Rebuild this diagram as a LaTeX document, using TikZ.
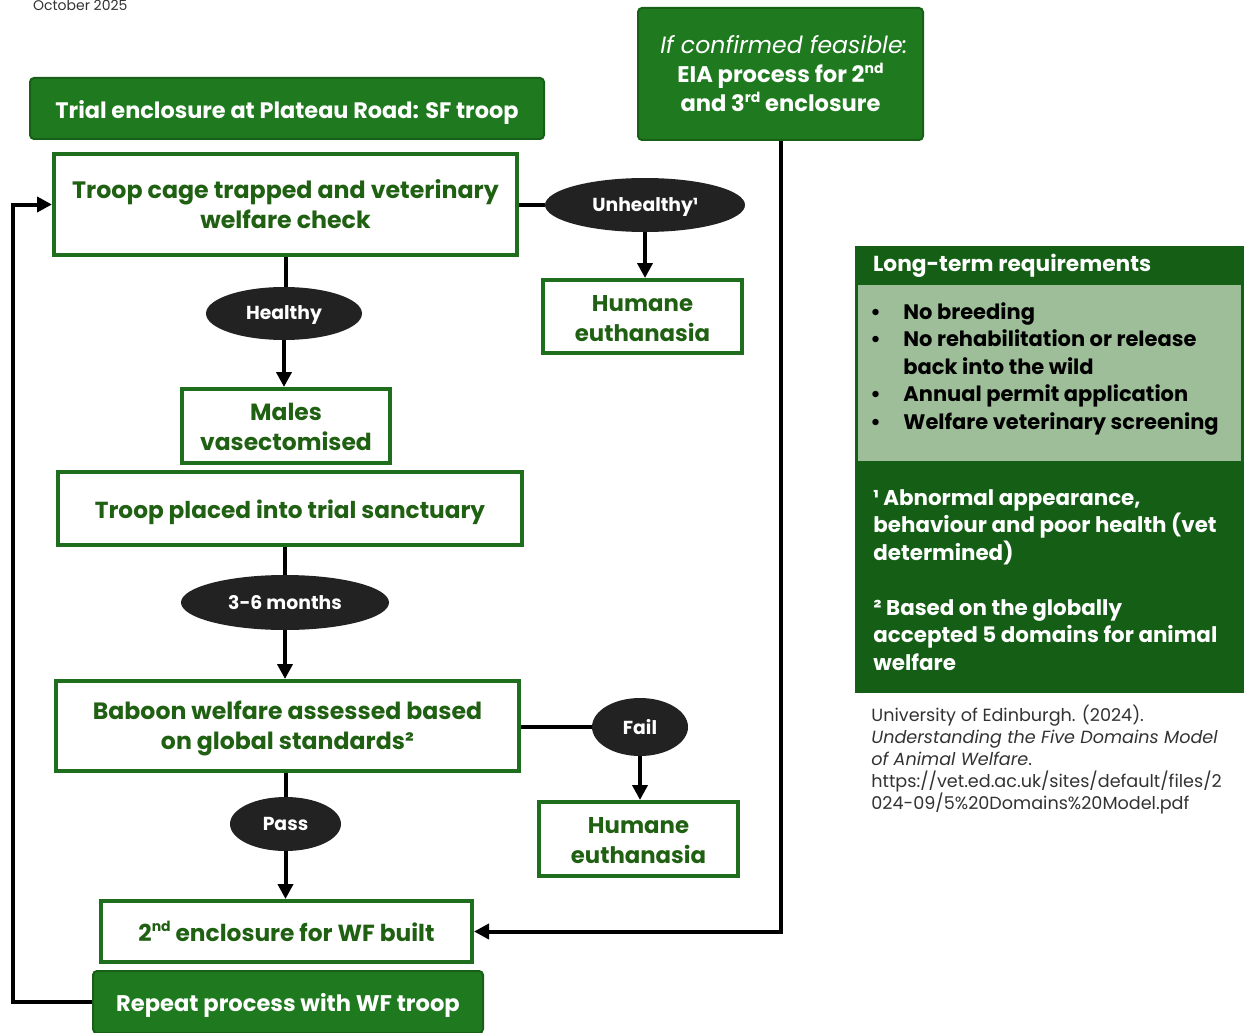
\documentclass[tikz,border=0pt]{standalone}
\usepackage{fontspec}
\setmainfont{Poppins}
\usetikzlibrary{arrows.meta,shapes.geometric}
\definecolor{fillgreen}{RGB}{31,122,31}
\definecolor{edgegreen}{RGB}{24,96,24}
\definecolor{boxgreen}{RGB}{30,110,30}
\definecolor{txtgreen}{RGB}{32,96,18}
\definecolor{paneldark}{RGB}{21,94,21}
\definecolor{panellight}{RGB}{158,190,153}
\definecolor{ovalgray}{RGB}{34,34,34}
\definecolor{reftext}{RGB}{50,50,50}
\newcommand{\fsz}[2]{\fontsize{#1}{#2}\selectfont}
\newcommand{\sups}[1]{\raisebox{0.75ex}{\fontsize{7}{7}\selectfont #1}}
\newcommand{\dn}[2]{\raisebox{-#1}[\height][\depth]{#2}}
\tikzset{
  greenbar/.style={draw=edgegreen, line width=1pt, fill=fillgreen, rounded corners=2pt, text=white, font=\bfseries, align=center, inner sep=0pt},
  wbox/.style={draw=boxgreen, line width=2pt, fill=white, text=txtgreen, font=\bfseries, align=center, inner sep=0pt},
  oval/.style={ellipse, fill=ovalgray, text=white, font=\bfseries\fsz{9.4}{11}, inner sep=0pt},
  conn/.style={line width=2pt, black},
  arr/.style={conn, -{Triangle[width=7.5pt,length=7.5pt]}},
}
\begin{document}
\begin{tikzpicture}[x=0.5pt,y=-0.5pt]
\useasboundingbox (0,0) rectangle (1245,1032);
\node[anchor=west, text=reftext, font=\fsz{7}{8}] (date) at (26,5) {October 2025};

\node[greenbar, minimum width=257pt, minimum height=30.5pt, font=\bfseries\fsz{11.2}{13}] (title) at (287,108.5) {\dn{2pt}{Trial enclosure at Plateau Road: SF troop}};
\node[greenbar, minimum width=142.5pt, minimum height=66pt, font=\bfseries\fsz{11.3}{14.5}] (eia) at (780.5,74) {{\mdseries\itshape\fsz{11.8}{14.5} If confirmed feasible:}\\EIA process for 2\sups{nd}\\and 3\sups{rd} enclosure};

\node[wbox, minimum width=231.5pt, minimum height=50.5pt, font=\bfseries\fsz{11.85}{15}] (check) at (285.5,204.5) {Troop cage trapped and veterinary\\welfare check};
\node[oval, minimum width=100pt, minimum height=27pt] (unhealthy) at (645,205) {\dn{1pt}{Unhealthy¹}};
\node[wbox, minimum width=99.5pt, minimum height=36.5pt, font=\bfseries\fsz{11.4}{15}] (hum1) at (642.5,316.5) {\dn{1pt}{Humane}\\\dn{1pt}{euthanasia}};
\node[oval, minimum width=78pt, minimum height=26.5pt] (healthy) at (284,313.5) {\dn{1pt}{Healthy}};
\node[wbox, minimum width=104pt, minimum height=37pt, font=\bfseries\fsz{11.7}{15}] (males) at (286,426) {\dn{0.5pt}{Males}\\\dn{0.5pt}{vasectomised}};
\node[wbox, minimum width=232pt, minimum height=36.5pt, font=\bfseries\fsz{11.6}{14}] (troop) at (290,508.5) {\dn{2pt}{Troop placed into trial sanctuary}};
\node[oval, minimum width=104pt, minimum height=27.5pt] (months) at (285,602.5) {3-6 months};
\node[wbox, minimum width=231.5pt, minimum height=45pt, font=\bfseries\fsz{11.8}{15}] (baboon) at (287.5,726) {\dn{1pt}{Baboon welfare assessed based}\\\dn{1pt}{on global standards²}};
\node[oval, minimum width=48pt, minimum height=29pt] (fail) at (640,727) {Fail};
\node[wbox, minimum width=99.5pt, minimum height=37pt, font=\bfseries\fsz{11.4}{15}] (hum2) at (638.5,839) {\dn{1pt}{Humane}\\\dn{1pt}{euthanasia}};
\node[oval, minimum width=55.5pt, minimum height=27pt] (pass) at (285.5,824) {Pass};
\node[wbox, minimum width=185.5pt, minimum height=30.5pt, font=\bfseries\fsz{11.65}{14}] (enc2) at (286.5,931.5) {2\sups{nd} enclosure for WF built};
\node[greenbar, minimum width=195pt, minimum height=31pt, font=\bfseries\fsz{11.3}{13}] (repeat) at (288,1002) {\dn{1.5pt}{Repeat process with WF troop}};

% connectors
\draw[conn] (check.east |- unhealthy) -- (unhealthy.west);
\draw[arr] (unhealthy.south) -- (unhealthy.south |- hum1.north);
\draw[conn] (check.south) -- (check.south |- healthy.north);
\draw[arr] (healthy.south) -- (healthy.south |- males.north);
\draw[conn] (troop.south -| months) -- (months.north);
\draw[arr] (months.south) -- (months.south |- baboon.north);
\draw[conn] (baboon.east |- fail) -- (fail.west);
\draw[arr] (fail.south) -- (fail.south |- hum2.north);
\draw[conn] (baboon.south -| pass) -- (pass.north);
\draw[arr] (pass.south) -- (pass.south |- enc2.north);
\coordinate (loopx) at (13,1002);
\draw[arr] (repeat.west) -- (loopx) |- (check.west);
\draw[arr] (eia.south) |- (enc2.east);

% right panel
\fill[paneldark] (855,246) rectangle (1244,693);
\fill[panellight] (858,285) rectangle (1241,461);
\node[anchor=west, text=white, font=\bfseries\fsz{10.85}{13}] (ltr) at (866,266) {Long-term requirements};
\node[anchor=north west, text=black, font=\bfseries\fsz{10.5}{13.75}, align=left, inner sep=0pt] (reqs) at (870,302) {%
\makebox[16.5pt][l]{\textbullet}No breeding\\
\makebox[16.5pt][l]{\textbullet}No rehabilitation or release\\
\makebox[16.5pt][l]{}back into the wild\\
\makebox[16.5pt][l]{\textbullet}Annual permit application\\
\makebox[16.5pt][l]{\textbullet}Welfare veterinary screening};
\node[anchor=north west, text=white, font=\bfseries\fsz{10.7}{13.75}, align=left, inner sep=0pt] (notes) at (873,489) {%
¹ Abnormal appearance,\\
behaviour and poor health (vet\\
determined)\\[13.75pt]
² Based on the globally\\
accepted 5 domains for animal\\
welfare};
\node[anchor=north west, text=reftext, font=\fsz{8.8}{11}, align=left, inner sep=0pt] (ref) at (871,705) {%
University of Edinburgh. (2024).\\
\textit{Understanding the Five Domains Model}\\
\textit{of Animal Welfare}.\\
https://vet.ed.ac.uk/sites/default/files/2\\
024-09/5\%20Domains\%20Model.pdf};
\end{tikzpicture}
\end{document}
